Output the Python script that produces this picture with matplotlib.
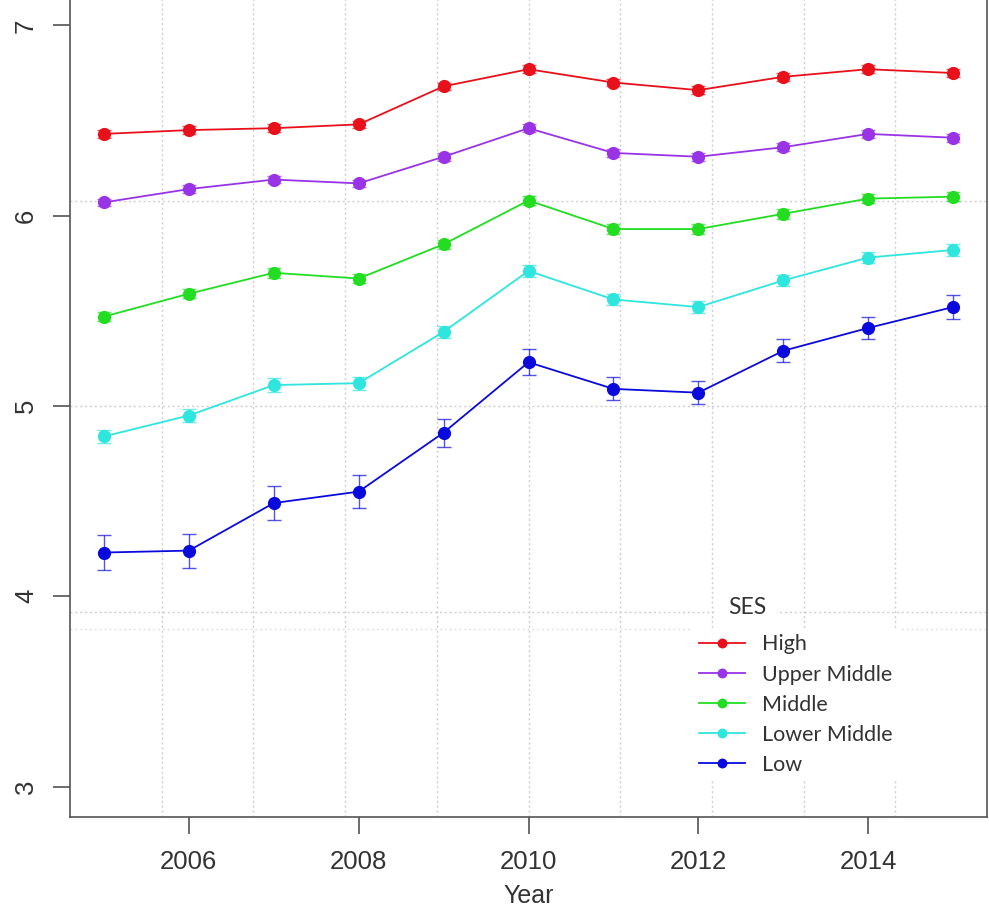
import numpy as np
import matplotlib.pyplot as plt

plt.rcParams["font.family"] = ["Liberation Sans", "DejaVu Sans"]

# Mean scores by year for each SES group
years = np.arange(2005, 2016)
groups = ["High", "Upper Middle", "Middle", "Lower Middle", "Low"]
colors = ["#e8101a", "#9933e6", "#22dd22", "#2ee6de", "#0a0add"]

high = [6.43, 6.45, 6.46, 6.48, 6.68, 6.77, 6.70, 6.66, 6.73, 6.77, 6.75]
upper_middle = [6.07, 6.14, 6.19, 6.17, 6.31, 6.46, 6.33, 6.31, 6.36, 6.43, 6.41]
middle = [5.47, 5.59, 5.70, 5.67, 5.85, 6.08, 5.93, 5.93, 6.01, 6.09, 6.10]
lower_middle = [4.84, 4.95, 5.11, 5.12, 5.39, 5.71, 5.56, 5.52, 5.66, 5.78, 5.82]
low = [4.23, 4.24, 4.49, 4.55, 4.86, 5.23, 5.09, 5.07, 5.29, 5.41, 5.52]

# Half-widths of the error bars
high_err = [0.02, 0.02, 0.02, 0.02, 0.02, 0.02, 0.02, 0.02, 0.02, 0.02, 0.02]
upper_middle_err = [0.02, 0.02, 0.02, 0.02, 0.02, 0.02, 0.02, 0.02, 0.02, 0.02, 0.02]
middle_err = [0.025, 0.025, 0.025, 0.025, 0.025, 0.025, 0.025, 0.025, 0.025, 0.025, 0.025]
lower_middle_err = [0.035, 0.035, 0.037, 0.035, 0.03, 0.03, 0.03, 0.03, 0.03, 0.03, 0.03]
low_err = [0.092, 0.089, 0.087, 0.087, 0.074, 0.068, 0.06, 0.06, 0.06, 0.058, 0.065]

series = [high, upper_middle, middle, lower_middle, low]
errors = [high_err, upper_middle_err, middle_err, lower_middle_err, low_err]

xlim = (2004.6, 2015.4)
ylim = (2.84, 7.16)

W, H = 989, 909
fig = plt.figure(figsize=(W / 100, H / 100), dpi=100)
ax = fig.add_axes([70 / W, (H - 817) / H, 917 / W, 822 / H])
ax.set_xlim(*xlim)
ax.set_ylim(*ylim)

# R-style grid: plot region split into equal cells
for gx in np.linspace(xlim[0], xlim[1], 11)[1:-1]:
    ax.axvline(gx, color="#cfcfcf", lw=1.0, ls=(0, (1.5, 2)), zorder=0)
for gy in np.linspace(ylim[0], ylim[1], 5)[1:-1]:
    ax.axhline(gy, color="#cfcfcf", lw=1.0, ls=(0, (1.5, 2)), zorder=0)
ax.axhline(3.83, color="#e2e2e2", lw=1.0, ls=(0, (1.5, 2)), zorder=0)

handles = []
for name, vals, err, c in zip(groups, series, errors, colors):
    ax.errorbar(years, vals, yerr=err, fmt="none", ecolor=c, elinewidth=1.0,
                capsize=5, capthick=1.0, alpha=0.7, zorder=2)
    h, = ax.plot(years, vals, color=c, lw=1.3, marker="o", markersize=9.5,
                 markeredgewidth=0, label=name, zorder=3)
    handles.append(h)

ax.set_xticks([2006, 2008, 2010, 2012, 2014])
ax.set_yticks([3, 4, 5, 6, 7])
for lab in ax.get_yticklabels():
    lab.set_rotation(90)
    lab.set_va("center")
ax.tick_params(axis="both", direction="out", length=12, width=1.1,
               color="#444444", labelcolor="#333333", labelsize=18.5)
ax.tick_params(axis="y", pad=11)
ax.tick_params(axis="x", pad=12)

for side in ["left", "bottom", "right", "top"]:
    ax.spines[side].set_color("#555555")
    ax.spines[side].set_linewidth(1.2)

ax.set_xlabel("Year", fontsize=18, color="#333333", labelpad=7)

leg = ax.legend(handles=handles, loc="upper left",
                bbox_to_anchor=(693 / W, 1 - 628 / H), bbox_transform=fig.transFigure,
                frameon=True, facecolor="white", edgecolor="none", framealpha=1,
                fancybox=False, prop={"family": "Lato", "size": 15.5},
                handlelength=2.1, handletextpad=0.8, labelspacing=0.47,
                borderpad=0.3, borderaxespad=0, markerscale=0.75)
for t in leg.get_texts():
    t.set_color("#333333")
leg.set_zorder(4)

# Legend title on a white patch
fig.text(728 / W, 1 - 607 / H, "SES", family="Lato", fontsize=16.5, color="#333333",
         va="center", ha="left",
         bbox=dict(facecolor="white", edgecolor="none", pad=8))

fig.savefig("out.png", dpi=100)
